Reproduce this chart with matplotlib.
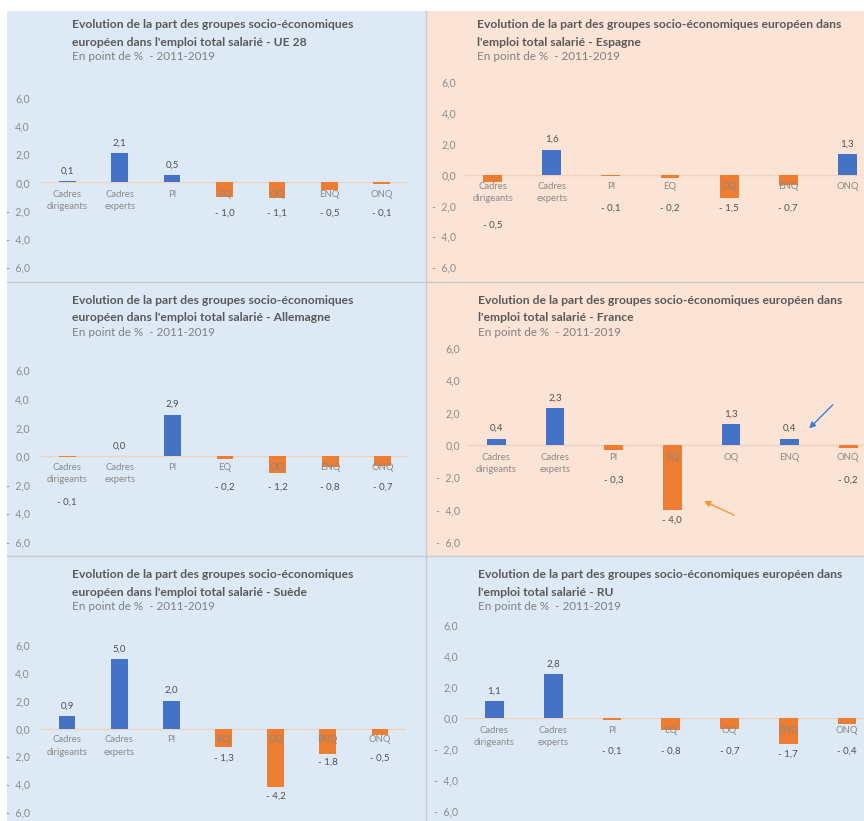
import matplotlib
matplotlib.use("Agg")
import matplotlib.pyplot as plt
from matplotlib.patches import Rectangle
from matplotlib.lines import Line2D
from matplotlib.ticker import FuncFormatter

plt.rcParams["font.family"] = ["Lato", "DejaVu Sans"]

categories = ["Cadres\ndirigeants", "Cadres\nexperts", "PI", "EQ", "OQ", "ENQ", "ONQ"]

ue28 = [0.1, 2.1, 0.5, -1.0, -1.1, -0.5, -0.1]
espagne = [-0.5, 1.6, -0.1, -0.2, -1.5, -0.7, 1.3]
allemagne = [-0.1, 0.0, 2.9, -0.2, -1.2, -0.8, -0.7]
france = [0.4, 2.3, -0.3, -4.0, 1.3, 0.4, -0.2]
suede = [0.9, 5.0, 2.0, -1.3, -4.2, -1.8, -0.5]
ru = [1.1, 2.8, -0.1, -0.8, -0.7, -1.7, -0.4]

titre_gauche = "Evolution de la part des groupes socio-économiques\neuropéen dans l'emploi total salarié - {}"
titre_droite = "Evolution de la part des groupes socio-économiques européen dans\nl'emploi total salarié - {}"
sous_titre = "En point de %  - 2011-2019"

W, H = 864, 821
BLEU = "#4472C4"
ORANGE = "#ED7D31"
FOND_BLEU = "#DDEAF6"
FOND_PECHE = "#FBE4D5"


def fmt(v, sep=" "):
    s = f"{abs(v):.1f}".replace(".", ",")
    return "-" + sep + s if v < 0 else s


fig = plt.figure(figsize=(W / 100, H / 100), dpi=100)
fig.patch.set_facecolor("white")


def px_rect(x0, y0, x1, y1):
    return [x0 / W, 1 - y1 / H, (x1 - x0) / W, (y1 - y0) / H]


# fonds des panneaux
panneaux = [
    (7, 11, 426, 282, FOND_BLEU),
    (426, 11, 864, 282, FOND_PECHE),
    (7, 282, 426, 556, FOND_BLEU),
    (426, 282, 864, 556, FOND_PECHE),
    (7, 556, 426, 821, FOND_BLEU),
    (426, 556, 864, 821, FOND_BLEU),
]
for x0, y0, x1, y1, c in panneaux:
    l, b, w, h = px_rect(x0, y0, x1, y1)
    fig.patches.append(Rectangle((l, b), w, h, transform=fig.transFigure,
                                 facecolor=c, edgecolor="none", zorder=-2))

# séparateurs
sep = "#C9C9C9"
fig.lines.append(Line2D([426 / W, 426 / W], [0, 1 - 11 / H], transform=fig.transFigure,
                        color=sep, lw=1, zorder=-1))
for yy in (282, 556):
    fig.lines.append(Line2D([7 / W, 1], [1 - yy / H, 1 - yy / H], transform=fig.transFigure,
                            color=sep, lw=1, zorder=-1))

# (valeurs, pays, titre, axe px (x0, y0, x1, y1), xlim droite, titre x, titre y, pad)
charts = [
    (ue28, "UE 28", titre_gauche, (41, 94, 408, 271), 6.5, 72, 25, 8),
    (espagne, "Espagne", titre_droite, (463, 77, 858, 272), 6.18, 477, 25, 5),
    (allemagne, "Allemagne", titre_gauche, (41, 366, 409, 546), 6.5, 72, 300, 8),
    (france, "France", titre_droite, (467, 343, 864, 547), 6.27, 478, 300, 5),
    (suede, "Suède", titre_gauche, (41, 641, 406, 816), 6.5, 72, 575, 8),
    (ru, "RU", titre_droite, (465, 620, 864, 816), 6.29, 478, 575, 5),
]

axes = []
for vals, pays, titre, box, xr, tx, ty, pad in charts:
    ax = fig.add_axes(px_rect(*box))
    ax.set_facecolor("none")
    x = list(range(len(categories)))
    colors = [BLEU if v >= 0 else ORANGE for v in vals]
    ax.bar(x, vals, width=0.32, color=colors, zorder=2)
    ax.axhline(0, color="#F0D2BE", lw=1, zorder=1)
    ax.set_xlim(-0.5, xr)
    ax.set_ylim(-6.3, 6.3)
    ax.set_yticks([6, 4, 2, 0, -2, -4, -6])
    ax.yaxis.set_major_formatter(FuncFormatter(lambda v, p: fmt(v, "  ")))
    ax.tick_params(axis="y", length=0, labelsize=7.6, labelcolor="#8C8C8C", pad=pad)
    ax.set_xticks([])
    for s in ax.spines.values():
        s.set_visible(False)

    for i, (cat, v) in enumerate(zip(categories, vals)):
        ax.text(i, -0.5, cat, ha="center", va="top", fontsize=6.8,
                color="#8A8A8A", linespacing=1.45)
        if v >= 0:
            ax.annotate(fmt(v), (i, v), xytext=(0, 4), textcoords="offset points",
                        ha="center", va="bottom", fontsize=7, color="#505050")
        else:
            base = -2.6 if "\n" in cat else -1.5
            ax.text(i, min(v, base) - 0.65, fmt(v), ha="center", va="center",
                    fontsize=7, color="#505050")

    for k, ligne in enumerate(titre.format(pays).split("\n")):
        fig.text(tx / W, 1 - (ty + 17 * k) / H, ligne, ha="left", va="center",
                 fontsize=8.7, fontweight="bold", color="#595959")
    fig.text(tx / W, 1 - (ty + 32) / H, sous_titre, ha="left", va="center",
             fontsize=8.4, color="#7F7F7F")
    axes.append(ax)

# flèches sur le graphique France
ax_fr = axes[3]
ax_fr.annotate("", xy=(5.3, 0.9), xytext=(5.77, 2.6),
               arrowprops=dict(arrowstyle="-|>", color="#3F7FD6", lw=1, mutation_scale=9))
ax_fr.annotate("", xy=(3.5, -3.4), xytext=(4.1, -4.4),
               arrowprops=dict(arrowstyle="-|>", color="#F5962E", lw=1, mutation_scale=9))

fig.savefig("out.png", dpi=100)
